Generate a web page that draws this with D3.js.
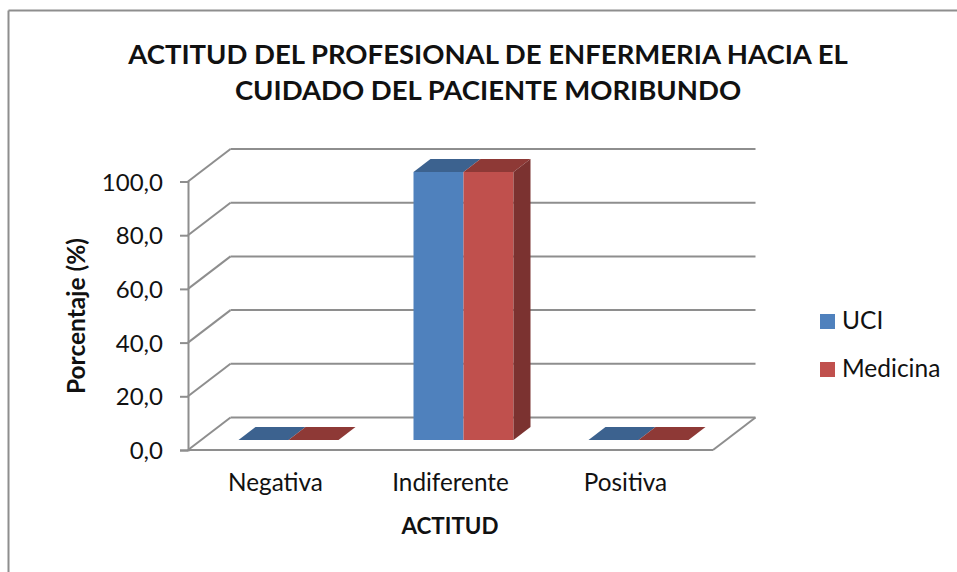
<!DOCTYPE html>
<html>
<head>
<meta charset="utf-8">
<title>Actitud</title>
<script src="https://d3js.org/d3.v7.min.js"></script>
<style>
  html, body { margin: 0; background: #fff; }
  svg { display: block; }
  text { font-family: Lato, "Open Sans", sans-serif; fill: #111; }
  .title { font-size: 27.5px; font-weight: 700; text-anchor: middle; }
  .axis-title { font-weight: 700; text-anchor: middle; }
  .grid { stroke: #8e8e8e; stroke-width: 2; fill: none; }
</style>
</head>
<body>
<script>
var categories = ["Negativa", "Indiferente", "Positiva"];
var seriesNames = ["UCI", "Medicina"];
var uciValues = [0, 100, 0];
var medicinaValues = [0, 100, 0];
var yTicks = [0, 20, 40, 60, 80, 100];
var titleLines = ["ACTITUD DEL PROFESIONAL DE ENFERMERIA HACIA EL", "CUIDADO DEL PACIENTE MORIBUNDO"];

var width = 957, height = 572;

var colors = {
  UCI: { front: "#4f81bd", top: "#3c628f" },
  Medicina: { front: "#c0504d", top: "#8e3936", side: "#7b3230" }
};

// plot box (front plane) and how far the back wall is pushed
var x0 = 188, x1 = 713, yBase = 450, yTop = 181.5;
var depthX = 42.5, depthY = -32.5;
// bars sit part way into the floor
var barOffX = 13, barOffY = -10;
var barDepthX = 17, barDepthY = -13;

var svg = d3.select("body").append("svg").attr("width", width).attr("height", height);

function myLine(g, a, b) {
  return g.append("line").attr("class", "grid")
    .attr("x1", a[0]).attr("y1", a[1]).attr("x2", b[0]).attr("y2", b[1]);
}

// chart frame, only top and left show in the picture
myLine(svg, [8.5, 10.5], [width, 10.5]);
myLine(svg, [8.5, 10.5], [8.5, height]);

var xCat = d3.scaleBand().domain(categories).range([x0, x1]);
var xSeries = d3.scaleBand().domain(seriesNames).range([37.5, 137.5]);
var y = d3.scaleLinear().domain([0, 100]).range([yBase, yTop]);

var comma = d3.formatLocale({ decimal: ",", thousands: ".", grouping: [3], currency: ["", ""] }).format(".1f");

// back wall gridlines + the diagonals on the side wall
var grid = svg.append("g");
yTicks.forEach(function(t) {
  myLine(grid, [x0, y(t)], [x0 + depthX, y(t) + depthY]);
  myLine(grid, [x0 + depthX, y(t) + depthY], [x1 + depthX, y(t) + depthY]);
});
// floor edges
myLine(grid, [x1, y(0)], [x1 + depthX, y(0) + depthY]);
myLine(grid, [x0, y(0)], [x1, y(0)]);

var yAxis = d3.axisLeft(y).tickValues(yTicks).tickFormat(comma).tickSize(8).tickPadding(17);
var yG = svg.append("g").attr("transform", "translate(" + x0 + ",0)").call(yAxis);
yG.select(".domain").attr("stroke", "#8e8e8e").attr("stroke-width", 2);
yG.selectAll(".tick line").attr("stroke", "#8e8e8e").attr("stroke-width", 2);
yG.selectAll(".tick text").attr("fill", "#111").attr("y", 1)
  .style("font-family", "Lato, sans-serif").style("font-size", "24px");

var xAxis = d3.axisBottom(xCat).tickSize(0).tickPadding(24);
var xG = svg.append("g").attr("transform", "translate(0," + yBase + ")").call(xAxis);
xG.select(".domain").remove();
xG.selectAll(".tick text").attr("fill", "#111")
  .style("font-family", "Lato, sans-serif").style("font-size", "24.3px");

function poly(g, pts, fill) {
  return g.append("polygon")
    .attr("points", pts.map(function(p) { return p.join(","); }).join(" "))
    .attr("fill", fill);
}

var barScale = d3.scaleLinear().domain([0, 100]).range([yBase + barOffY, yTop + barOffY + 0.5]);

var bars = svg.append("g");
[uciValues, medicinaValues].forEach(function(vals, s) {
  var name = seriesNames[s];
  categories.forEach(function(c, i) {
    var left = xCat(c) + xSeries(name) + barOffX;
    var right = left + xSeries.bandwidth();
    var top = barScale(vals[i]);
    var bottom = barScale(0);
    if (vals[i] > 0) {
      bars.append("rect").attr("x", left).attr("y", top)
        .attr("width", right - left).attr("height", bottom - top)
        .attr("fill", colors[name].front);
    }
    poly(bars, [[left, top], [left + barDepthX, top + barDepthY], [right + barDepthX, top + barDepthY], [right, top]], colors[name].top);
    if (vals[i] > 0 && colors[name].side) {
      poly(bars, [[right, top], [right + barDepthX, top + barDepthY], [right + barDepthX, bottom + barDepthY], [right, bottom]], colors[name].side);
    }
  });
});

// titles
svg.selectAll(".title").data(titleLines).enter().append("text")
  .attr("class", "title")
  .attr("x", 488)
  .attr("y", function(d, i) { return 64 + i * 35.5; })
  .text(function(d) { return d; });

svg.append("text").attr("class", "axis-title").attr("x", 450).attr("y", 534)
  .style("font-size", "22.4px").text("ACTITUD");
svg.append("text").attr("class", "axis-title").style("font-size", "24.5px")
  .attr("transform", "translate(85,316) rotate(-90)").text("Porcentaje (%)");

// legend
var legend = svg.selectAll(".legend").data(seriesNames).enter().append("g")
  .attr("class", "legend")
  .attr("transform", function(d, i) { return "translate(820," + (314 + i * 48) + ")"; });
legend.append("rect").attr("width", 15).attr("height", 15)
  .attr("fill", function(d) { return colors[d].front; });
legend.append("text").attr("x", 22).attr("y", 15).style("font-size", "24.5px")
  .text(function(d) { return d; });
</script>
</body>
</html>
